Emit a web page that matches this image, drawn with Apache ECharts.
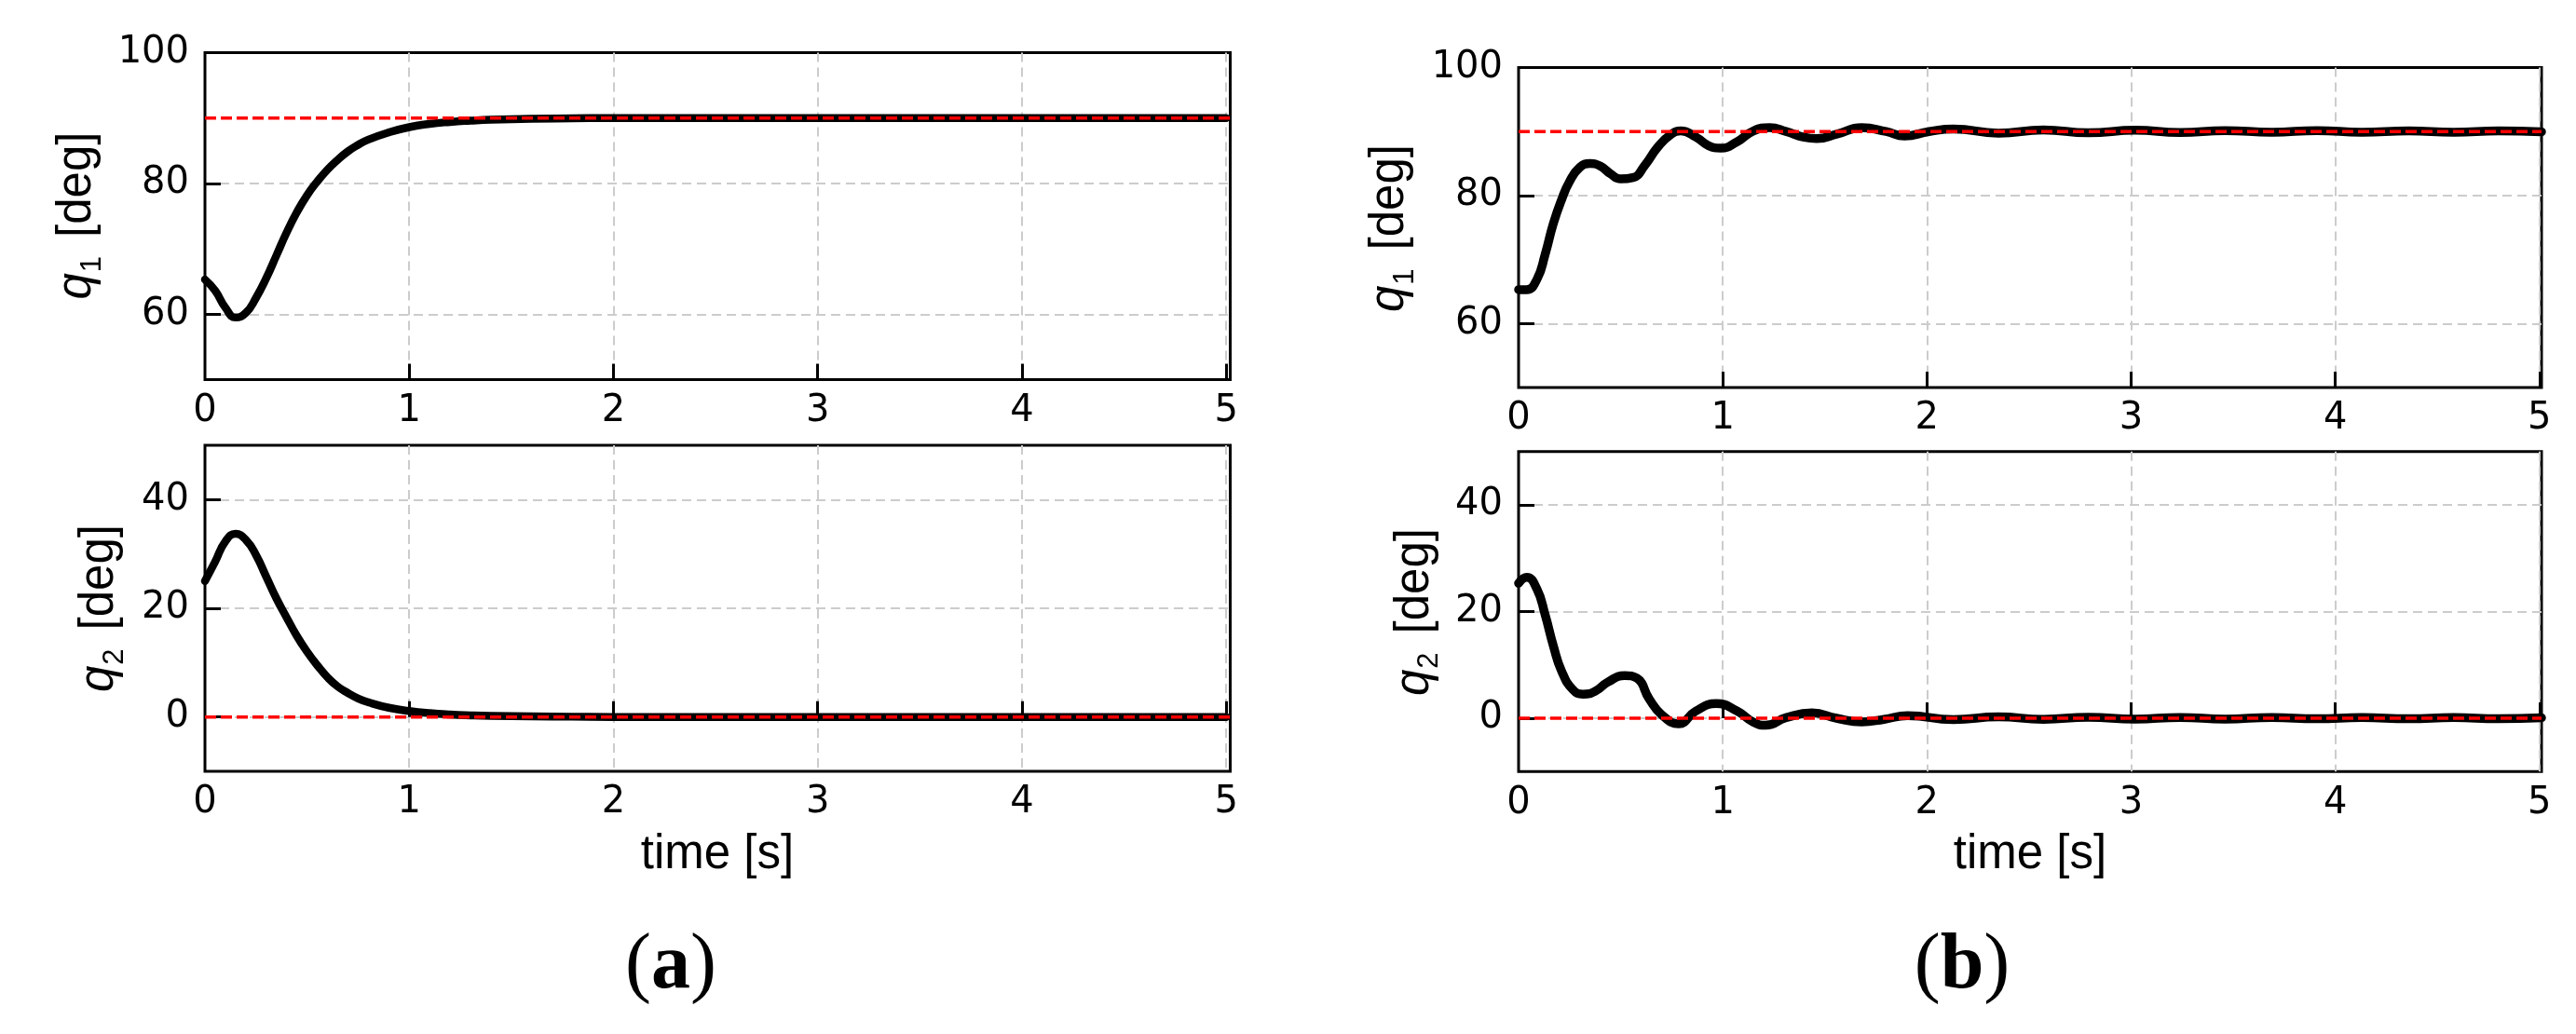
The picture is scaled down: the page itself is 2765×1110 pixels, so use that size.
<!DOCTYPE html>
<html><head><meta charset="utf-8">
<script src="https://cdn.jsdelivr.net/npm/echarts@6/dist/echarts.min.js"></script>
<style>html,body{margin:0;padding:0;background:#fff}#c{width:2765px;height:1110px}</style>
</head><body><div id="c"></div>
<script>
// ---------- data ----------
// Panel (a)
const tA  = [0,0.05,0.10,0.15,0.20,0.25,0.30,0.35,0.40,0.45,0.50,0.55,0.60,0.65,0.70,0.75,0.80,0.90,1.00,1.10,1.20,1.30,1.40,1.60,1.80,2.00,2.50,3.00,3.50,4.00,4.50,5.00];
const q1A = [65.3,63.6,61.0,59.5,60.2,62.5,65.5,69.0,72.5,75.6,78.2,80.3,82.1,83.6,84.9,85.9,86.7,87.8,88.6,89.1,89.4,89.6,89.75,89.9,89.95,90.0,90.0,90.0,90.0,90.0,90.0,90.0];
const q2A = [25.0,28.6,32.3,33.7,32.6,29.8,25.8,21.8,18.3,14.9,12.0,9.5,7.3,5.6,4.4,3.4,2.7,1.7,1.1,0.7,0.45,0.3,0.2,0.1,0.05,0,0,0,0,0,0,0];
// Panel (b)
const tB1 = [0,0.04,0.09,0.13,0.17,0.21,0.25,0.30,0.35,0.40,0.45,0.50,0.56,0.62,0.68,0.74,0.795,0.87,0.93,0.99,1.07,1.15,1.23,1.31,1.40,1.46,1.56,1.68,1.80,1.89,2.01,2.13,2.35,2.57,2.79,3.02,3.24,3.46,3.69,3.91,4.13,4.36,4.58,4.80,5.01];
const q1B = [65.3,65.3,66.9,70.8,75.6,79.3,82.2,84.4,85.0,84.6,83.4,82.6,82.8,84.8,87.5,89.4,90.1,89.1,87.8,87.4,88.4,90.1,90.6,90.0,89.1,88.9,89.6,90.6,90.0,89.3,90.0,90.4,89.75,90.25,89.8,90.2,89.85,90.15,89.9,90.15,89.9,90.1,89.9,90.1,89.95];
const tB2 = [0,0.04,0.09,0.13,0.17,0.21,0.265,0.316,0.377,0.438,0.52,0.58,0.64,0.70,0.784,0.866,0.968,1.07,1.15,1.21,1.31,1.437,1.557,1.68,1.79,1.905,2.13,2.35,2.57,2.79,3.02,3.24,3.46,3.69,3.91,4.13,4.36,4.58,4.80,5.01];
const q2B = [25.3,26.4,24.2,19.4,13.6,8.9,5.4,4.5,5.1,6.8,8.0,7.5,3.6,0.7,-1.05,1.3,2.75,1.35,-0.75,-1.3,0.1,1.0,0.0,-0.7,-0.2,0.5,-0.25,0.25,-0.2,0.2,-0.15,0.15,-0.15,0.15,-0.1,0.15,-0.1,0.15,-0.1,0.1];
// references
const q1Ref = 90;
const q2Ref = 0;
// ticks / labels
const xTickLabels = [0,1,2,3,4,5];
const xGridTicks = [1,2,3,4,5];
const q1Labels = [60,80,100];
const q1GridTicks = [60,80];
const q2Labels = [0,20,40];
const q2GridTicks = [0,20,40];
const xLabelText = 'time [s]';
const panelLabels = ['a','b'];

// ---------- layout / style ----------
const xMaxA = 5.02, xMaxB = 5.01;
const grids = [
  {left:220,  top:56.5,  width:1100.5, height:351},
  {left:220,  top:478,   width:1100.5, height:350},
  {left:1630, top:72.5,  width:1098,   height:343.5},
  {left:1630, top:484.7, width:1098,   height:343.6}
];
const tickFont = {fontFamily:'DejaVu Sans', fontSize:40, color:'#000'};
const gridLine = {show:true, lineStyle:{color:'#cccccc', width:2, type:[10,6]}};

function xAxis(i, max){
  return {type:'value', gridIndex:i, min:0, max:max,
    axisLine:{show:false},
    axisTick:{show:true, inside:true, length:17, lineStyle:{color:'#000', width:3}, customValues:xGridTicks},
    axisLabel:Object.assign({customValues:xTickLabels, margin:14}, tickFont),
    splitLine:gridLine};
}
function yAxis(i, min, max, labels, ticks){
  return {type:'value', gridIndex:i, min:min, max:max,
    axisLine:{show:false},
    axisTick:{show:true, inside:true, length:17, lineStyle:{color:'#000', width:3}, customValues:ticks},
    axisLabel:Object.assign({customValues:labels, margin:17}, tickFont),
    splitLine:gridLine};
}
function curve(i, ts, vs, w){
  return {type:'line', xAxisIndex:i, yAxisIndex:i, data:ts.map((t,k)=>[t,vs[k]]),
    symbol:'none', smooth:0.5, z:3,
    lineStyle:{color:'#000', width:w, cap:'round', join:'round'}};
}
function ref(i, v, max){
  return {type:'line', xAxisIndex:i, yAxisIndex:i, data:[[0,v],[max,v]],
    symbol:'none', z:4, lineStyle:{color:'#ff0000', width:3.5, type:[12,5]}};
}
function yName(x, y, sub){
  return {type:'text', x:x, y:y, rotation:Math.PI/2, z:10,
    style:{text:'{q|q}{s|'+sub+'}{n|[deg]}', align:'center', verticalAlign:'middle',
      rich:{
        q:{fontFamily:'Liberation Sans', fontStyle:'italic', fontSize:51, fill:'#000'},
        s:{fontFamily:'Liberation Sans', fontSize:31, fill:'#000', padding:[32,20,0,1]},
        n:{fontFamily:'Liberation Sans', fontSize:51, fill:'#000'}
      }}};
}
function plainText(x, y, txt){
  return {type:'text', x:x, y:y, z:10,
    style:{text:txt, align:'center', verticalAlign:'middle', fontFamily:'Liberation Sans', fontSize:51, fill:'#000'}};
}
function panelText(x, y, letter){
  return {type:'text', x:x, y:y, z:10,
    style:{text:'{p|(}{b|'+letter+'}{p|)}', align:'center', verticalAlign:'middle',
      rich:{
        p:{fontFamily:'Liberation Serif', fontSize:84, fill:'#000'},
        b:{fontFamily:'Liberation Serif', fontSize:84, fontWeight:'bold', fill:'#000'}
      }}};
}

const option = {
  animation:false,
  backgroundColor:'#fff',
  grid:grids.map(g=>Object.assign({show:true, borderColor:'#000', borderWidth:3, backgroundColor:'transparent', containLabel:false}, g)),
  xAxis:[xAxis(0,xMaxA), xAxis(1,xMaxA), xAxis(2,xMaxB), xAxis(3,xMaxB)],
  yAxis:[yAxis(0,50,100,q1Labels,q1GridTicks), yAxis(1,-10,50,q2Labels,q2GridTicks),
         yAxis(2,50,100,q1Labels,q1GridTicks), yAxis(3,-10,50,q2Labels,q2GridTicks)],
  series:[
    curve(0,tA,q1A,8.5), ref(0,q1Ref,xMaxA),
    curve(1,tA,q2A,8.5), ref(1,q2Ref,xMaxA),
    curve(2,tB1,q1B,9.5), ref(2,q1Ref,xMaxB),
    curve(3,tB2,q2B,9.5), ref(3,q2Ref,xMaxB)
  ],
  graphic:[
    yName(83,231.5,'1'), yName(107,653,'2'),
    yName(1492,245,'1'), yName(1518.5,657,'2'),
    plainText(770,918,xLabelText), plainText(2179,918,xLabelText),
    panelText(720,1038,panelLabels[0]), panelText(2106,1038,panelLabels[1])
  ]
};
const chart = echarts.init(document.getElementById('c'), null, {renderer:'canvas'});
chart.setOption(option);
</script>
</body></html>
